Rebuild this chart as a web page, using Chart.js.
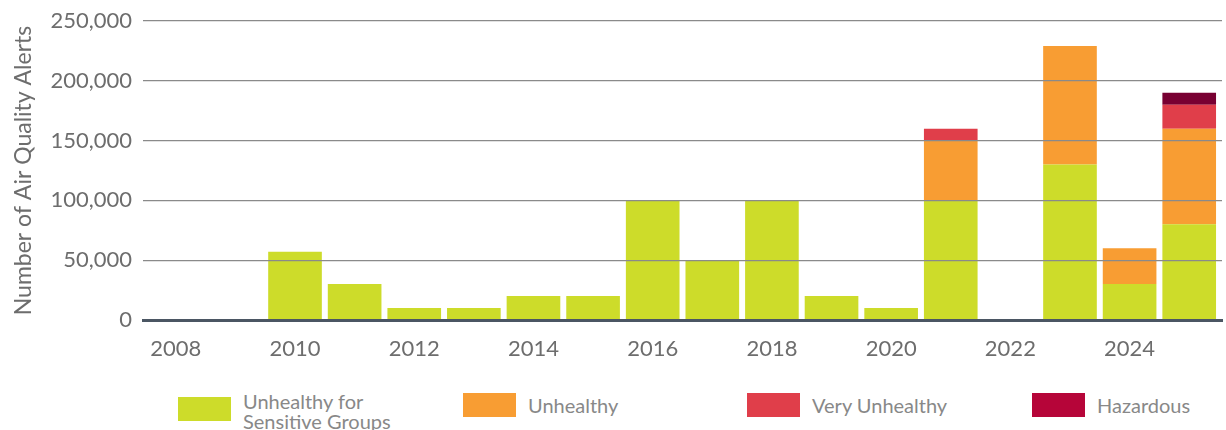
<!DOCTYPE html>
<html><head><meta charset="utf-8">
<script src="https://cdn.jsdelivr.net/npm/chart.js@4.4.1/dist/chart.umd.min.js"></script>
<style>
html,body{margin:0;padding:0;background:#fff;width:1226px;height:430px;overflow:hidden}
#wrap{position:relative;width:1226px;height:430px;font-family:Lato,sans-serif}
#c{position:absolute;left:0;top:0}
.box{position:absolute;height:24px}
.txt{position:absolute;font-size:20px;line-height:20px;color:#888;white-space:nowrap}
</style></head><body>
<div id="wrap">
<canvas id="c" width="1226" height="380"></canvas>
<div id="legend"></div>
</div>
<script>
const years = [2008,2009,2010,2011,2012,2013,2014,2015,2016,2017,2018,2019,2020,2021,2022,2023,2024,2025];
const tickYears = [2008,2010,2012,2014,2016,2018,2020,2022,2024];
const yTicks = [0,50000,100000,150000,200000,250000];
const sensitive     = [0,0,57000,30000,10000,10000,20000,20000,100000,50000,100000,20000,10000,100000,0,130000,30000,80000];
const unhealthy     = [0,0,0,0,0,0,0,0,0,0,0,0,0,50000,0,99000,30000,80000];
const veryUnhealthy = [0,0,0,0,0,0,0,0,0,0,0,0,0,10000,0,0,0,20000];
const hazardous     = [0,0,0,0,0,0,0,0,0,0,0,0,0,0,0,0,0,10000];
const seriesNames = ['Unhealthy for Sensitive Groups','Unhealthy','Very Unhealthy','Hazardous'];
const legendLines = [['Unhealthy for','Sensitive Groups'],['Unhealthy'],['Very Unhealthy'],['Hazardous']];
const barColors = ['#cddc2a','#f89d33','#e03e4a','#780032'];
const legendColors = ['#cddc2a','#f89d33','#e03e4a','#b60539'];

const seriesValues = [sensitive, unhealthy, veryUnhealthy, hazardous];
const datasets = seriesValues.map((vals, k) => ({
  label: seriesNames[k],
  data: years.map((yr, i) => ({x: yr, y: vals[i]})),
  backgroundColor: barColors[k],
  borderWidth: 0,
  stack: 's'
}));

new Chart(document.getElementById('c'), {
  type: 'bar',
  data: {datasets},
  options: {
    responsive: false,
    animation: false,
    devicePixelRatio: 1,
    layout: {padding: {left: 10, top: 21, right: 4, bottom: 0}},
    plugins: {legend: {display: false}, tooltip: {enabled: false}},
    datasets: {bar: {categoryPercentage: 1, barPercentage: 0.9}},
    scales: {
      x: {
        type: 'linear', min: 2007.45, max: 2025.55, offset: false,
        grid: {display: false, drawTicks: false},
        border: {display: true, color: '#4b5663', width: 3, z: 2},
        afterBuildTicks: s => { s.ticks = tickYears.map(v => ({value: v})); },
        ticks: {callback: v => String(v), font: {family: 'Lato', size: 22}, color: '#6d6d6d', padding: 16, maxRotation: 0, autoSkip: false},
        afterFit: s => { s.height = 60; }
      },
      y: {
        min: 0, max: 250000, stacked: true,
        afterBuildTicks: s => { s.ticks = yTicks.map(v => ({value: v})); },
        grid: {color: c => (c.tick && c.tick.value === 0) ? 'rgba(0,0,0,0)' : '#8a8a8a', lineWidth: 1.3, z: 1, drawTicks: false},
        border: {display: false},
        ticks: {callback: v => v.toLocaleString('en-US'), font: {family: 'Lato', size: 22}, color: '#6d6d6d', padding: 11},
        title: {display: true, text: 'Number of Air Quality Alerts', font: {family: 'Lato', size: 23}, color: '#6d6d6d', padding: 0},
        afterFit: s => { s.width = 133; s.paddingTop = 0; s.paddingBottom = 0; }
      }
    }
  }
});

// legend
const legendPos = [
  {bx: 178, by: 397, bw: 53, tx: 243, ty: 391},
  {bx: 463, by: 393, bw: 53, tx: 528, ty: 395},
  {bx: 747, by: 393, bw: 53, tx: 812, ty: 395},
  {bx: 1032, by: 393, bw: 53, tx: 1097, ty: 395}
];
const lg = document.getElementById('legend');
legendPos.forEach((p, k) => {
  const b = document.createElement('div');
  b.className = 'box';
  b.style.left = p.bx + 'px'; b.style.top = p.by + 'px'; b.style.width = p.bw + 'px';
  b.style.background = legendColors[k];
  lg.appendChild(b);
  const t = document.createElement('div');
  t.className = 'txt';
  t.style.left = p.tx + 'px'; t.style.top = p.ty + 'px';
  t.innerHTML = legendLines[k].join('<br>');
  lg.appendChild(t);
});
</script>
</body></html>
